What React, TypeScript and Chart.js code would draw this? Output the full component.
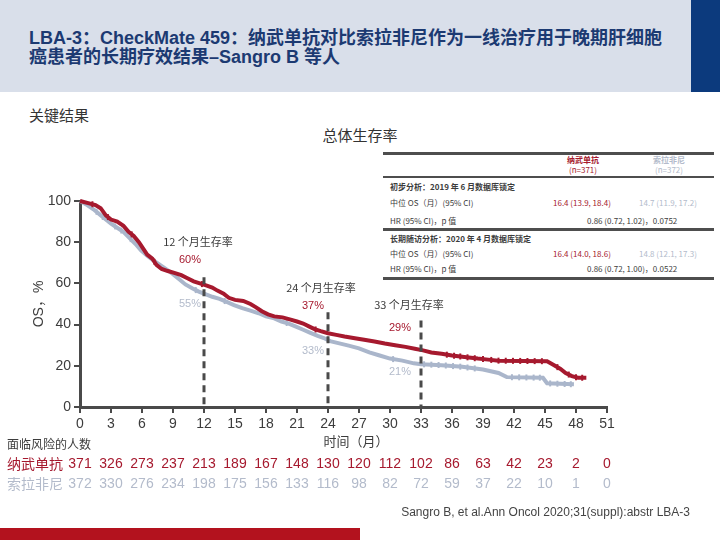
import React, { useEffect, useRef } from "react";
import { Chart, registerables } from "chart.js";
Chart.register(...registerables);

// ---------- data ----------
const tickMonths = [0, 3, 6, 9, 12, 15, 18, 21, 24, 27, 30, 33, 36, 39, 42, 45, 48, 51];
const yTicks = [0, 20, 40, 60, 80, 100];

const nivoMonths = [0, 0.8, 1.5, 2.0, 2.5, 3.0, 3.6, 4.2, 4.7, 5.2, 5.7, 6.1, 6.5, 7.0, 7.4, 7.9, 8.5, 9.2, 9.8, 10.4, 11.0, 11.6, 12.2, 12.8, 13.3, 13.9, 14.4, 15.0, 15.8, 16.5, 17.0, 17.6, 18.2, 18.8, 19.6, 20.3, 21.0, 21.6, 22.2, 22.7, 23.3, 24.0, 24.8, 25.6, 26.6, 27.5, 28.5, 29.5, 30.5, 31.5, 32.4, 33.2, 34.0, 35.0, 36.0, 37.2, 38.5, 39.5, 40.5, 45.2, 45.8, 46.5, 47.0, 47.6, 48.2, 49.0];
const nivoOS = [100, 99, 98, 96.5, 93, 91, 90, 88, 85, 83, 80, 77, 74, 72, 69, 67, 66, 65, 64, 62.5, 61, 60, 59, 58, 56.5, 55, 53, 52, 51.5, 50, 48.5, 46.5, 45, 44, 43.5, 42.5, 41.5, 40.5, 39, 37.8, 36.8, 35.8, 35, 34.2, 33.4, 32.6, 31.8, 30.8, 30, 29.2, 28.3, 27.5, 26.5, 25.8, 25, 24.3, 23.5, 23, 22.5, 22.2, 20.5, 18.5, 16.5, 15, 14.2, 14.2];
const soraMonths = [0, 0.7, 1.3, 1.9, 2.5, 3.0, 3.6, 4.2, 4.8, 5.4, 5.9, 6.5, 7.0, 7.6, 8.3, 9.0, 9.6, 10.2, 10.9, 11.5, 12.0, 12.8, 13.5, 14.2, 14.9, 15.7, 16.5, 17.3, 18.0, 18.8, 19.5, 20.2, 20.9, 21.6, 22.3, 23.0, 23.6, 24.2, 25.0, 26.0, 27.0, 28.0, 29.0, 30.0, 31.2, 32.3, 33.0, 35.0, 37.0, 39.0, 40.5, 41.3, 44.8, 45.2, 47.8];
const soraOS = [100, 98, 96, 93.5, 91, 89, 87, 85, 82, 79, 76, 73.5, 71.5, 69.5, 67, 64.5, 62, 59.5, 57.5, 56, 55, 53.5, 52.5, 51, 49.5, 48, 46.8, 45.5, 44, 43, 41.5, 40.5, 39, 37.5, 36, 34.5, 33.5, 32, 31, 29.8, 28.5, 26.5, 25, 23.5, 22.5, 21.2, 20.8, 20.3, 19.5, 18.2, 16.5, 14.5, 14.2, 11.5, 11.0];
const nivoCensor = [1.2, 2.7, 5.0, 7.2, 11.8, 22.8, 35.5, 36.2, 36.8, 37.5, 38.2, 39.0, 39.8, 40.5, 41.2, 41.9, 42.6, 43.3, 44.0, 44.7, 46.2, 47.3, 48.0, 48.6];
const soraCensor = [1.6, 2.2, 3.4, 4.0, 4.9, 11.2, 14.0, 20.0, 30.3, 33.3, 34.0, 34.7, 35.4, 36.1, 36.8, 37.5, 38.2, 41.8, 42.5, 43.2, 43.9, 44.5, 45.5, 46.2, 46.9, 47.5];

const landmarkMonths = [12, 24, 33];
const landmarkTopPct = [63, 46, 42];
const landmarkTitles = ["12 个月生存率", "24 个月生存率", "33 个月生存率"];
const nivoLandmark = ["60%", "37%", "29%"];
const soraLandmark = ["55%", "33%", "21%"];

const nivoAtRisk = [371, 326, 273, 237, 213, 189, 167, 148, 130, 120, 112, 102, 86, 63, 42, 23, 2, 0];
const soraAtRisk = [372, 330, 276, 234, 198, 175, 156, 133, 116, 98, 82, 72, 59, 37, 22, 10, 1, 0];

// ---------- styles ----------
const RED = "#A6192E";
const GREY = "#AAB6CB";
const GREY_TEXT = "#B3BBCB";
const DARK = "#3C3C3C";
const AXIS = "#4A4A4A";
const LAT = "'Liberation Sans', Arial, 'Noto Sans CJK SC', sans-serif";
const CJK = "'Noto Sans CJK SC', 'Liberation Sans', sans-serif";

function interpAt(ms: number[], vs: number[], t: number) {
  for (let i = 1; i < ms.length; i++) {
    if (ms[i] >= t) {
      const f = (t - ms[i - 1]) / (ms[i] - ms[i - 1]);
      return vs[i - 1] + f * (vs[i] - vs[i - 1]);
    }
  }
  return vs[vs.length - 1];
}

const extras = {
  id: "extras",
  afterDraw(chart: any) {
    const ctx = chart.ctx as CanvasRenderingContext2D;
    const xs = chart.scales.x;
    ctx.save();
    ctx.save();
    ctx.translate(39, 304);
    ctx.rotate(-Math.PI / 2);
    ctx.fillStyle = DARK;
    ctx.font = `14px ${LAT}`;
    ctx.textAlign = "center";
    ctx.textBaseline = "middle";
    ctx.fillText("OS，%", 0, 0);
    ctx.restore();

    ctx.textAlign = "center";
    ctx.textBaseline = "middle";
    const titleY = [242, 288, 305];
    const titleDx = [-6, -7, -12];
    const nY = [260, 306, 328];
    const sY = [304, 351, 372];
    const pDx = [-14, -15, -21];
    landmarkMonths.forEach((m, i) => {
      const px = xs.getPixelForValue(m);
      ctx.font = `11px ${CJK}`;
      ctx.fillStyle = DARK;
      ctx.fillText(landmarkTitles[i], px + titleDx[i], titleY[i]);
      ctx.font = `11px ${LAT}`;
      ctx.fillStyle = RED;
      ctx.fillText(nivoLandmark[i], px + pDx[i], nY[i]);
      ctx.fillStyle = GREY_TEXT;
      ctx.fillText(soraLandmark[i], px + pDx[i], sY[i]);
    });

    ctx.font = `13px ${CJK}`;
    ctx.fillStyle = DARK;
    ctx.fillText("时间（月）", 356, 441);

    ctx.textAlign = "left";
    ctx.font = `12px ${CJK}`;
    ctx.fillText("面临风险的人数", 7, 444);
    ctx.font = `14px ${CJK}`;
    ctx.fillStyle = RED;
    ctx.fillText("纳武单抗", 7, 464);
    ctx.fillStyle = GREY_TEXT;
    ctx.fillText("索拉非尼", 7, 484);
    ctx.textAlign = "center";
    ctx.font = `14px ${LAT}`;
    tickMonths.forEach((m, i) => {
      const px = xs.getPixelForValue(m);
      ctx.fillStyle = RED;
      ctx.fillText(String(nivoAtRisk[i]), px, 464);
      ctx.fillStyle = GREY_TEXT;
      ctx.fillText(String(soraAtRisk[i]), px, 484);
    });
    ctx.restore();
  },
};

function T(props: any) {
  const { x, y, c, children, style } = props;
  return (
    <div
      style={{
        position: "absolute",
        left: x,
        top: y,
        transform: c ? "translate(-50%,-50%)" : "translateY(-50%)",
        whiteSpace: "nowrap",
        lineHeight: 1,
        ...style,
      }}
    >
      {children}
    </div>
  );
}

function Rule({ y, h }: { y: number; h: number }) {
  return <div style={{ position: "absolute", left: 383, top: y, width: 331, height: h, background: "#4E4E4E" }} />;
}

export default function App() {
  const ref = useRef<HTMLCanvasElement>(null);
  useEffect(() => {
    if (!ref.current) return;
    const nivoData = nivoMonths.map((m, i) => ({ x: m, y: nivoOS[i] }));
    const soraData = soraMonths.map((m, i) => ({ x: m, y: soraOS[i] }));
    const nivoC = nivoCensor.map((m) => ({ x: m, y: interpAt(nivoMonths, nivoOS, m) }));
    const soraC = soraCensor.map((m) => ({ x: m, y: interpAt(soraMonths, soraOS, m) }));
    const landmarkSets = landmarkMonths.map((m, i) => ({
      type: "line" as const,
      data: [
        { x: m, y: landmarkTopPct[i] },
        { x: m, y: 0 },
      ],
      borderColor: AXIS,
      borderWidth: 3,
      borderDash: [7, 5],
      pointRadius: 0,
      clip: false as any,
    }));
    const chart = new Chart(ref.current, {
      type: "line",
      data: {
        datasets: [
          ...landmarkSets,
          { type: "line", data: nivoData, borderColor: RED, borderWidth: 4, pointRadius: 0, clip: false as any },
          { type: "scatter", data: nivoC, borderColor: RED, backgroundColor: RED, pointStyle: "line", rotation: 90, pointRadius: 3, borderWidth: 2, showLine: false, clip: false as any },
          { type: "line", data: soraData, borderColor: GREY, borderWidth: 4, pointRadius: 0, clip: false as any },
          { type: "scatter", data: soraC, borderColor: GREY, backgroundColor: GREY, pointStyle: "line", rotation: 90, pointRadius: 3, borderWidth: 2, showLine: false, clip: false as any },
        ] as any,
      },
      options: {
        animation: false,
        responsive: false,
        devicePixelRatio: 1,
        layout: { padding: { left: 0, right: 113, top: 201, bottom: 0 } },
        plugins: { legend: { display: false }, tooltip: { enabled: false } },
        scales: {
          x: {
            type: "linear",
            min: 0,
            max: 51,
            afterBuildTicks: (s: any) => {
              s.ticks = tickMonths.map((v) => ({ value: v }));
            },
            afterFit: (s: any) => {
              s.height = 133;
            },
            ticks: { color: DARK, font: { size: 14, family: LAT }, padding: 3, maxRotation: 0, autoSkip: false },
            border: { display: true, color: AXIS, width: 3 },
            grid: { drawOnChartArea: false, color: AXIS, lineWidth: 2, tickLength: 6 },
          },
          y: {
            min: 0,
            max: 100,
            afterBuildTicks: (s: any) => {
              s.ticks = yTicks.map((v) => ({ value: v }));
            },
            afterFit: (s: any) => {
              s.width = 80;
            },
            ticks: { color: DARK, font: { size: 14, family: LAT }, padding: 3 },
            border: { display: true, color: AXIS, width: 3 },
            grid: { drawOnChartArea: false, color: AXIS, lineWidth: 2, tickLength: 6 },
          },
        },
      },
      plugins: [extras],
    });
    return () => chart.destroy();
  }, []);

  const small = { fontSize: 8, fontFamily: CJK, color: DARK };
  return (
    <div style={{ position: "absolute", left: 0, top: 0, width: 720, height: 540, background: "#fff", overflow: "hidden" }}>
      <div style={{ position: "absolute", left: 0, top: 0, width: 720, height: 92, background: "#D9DFEA" }} />
      <div style={{ position: "absolute", left: 691, top: 0, width: 29, height: 92, background: "#0C3A7D" }} />
      <T x={29} y={38} style={{ fontSize: 18, fontWeight: "bold", color: "#1C3A72", fontFamily: LAT }}>
        LBA-3：CheckMate 459：纳武单抗对比索拉非尼作为一线治疗用于晚期肝细胞
      </T>
      <T x={29} y={57} style={{ fontSize: 18, fontWeight: "bold", color: "#1C3A72", fontFamily: LAT }}>
        癌患者的长期疗效结果–Sangro B 等人
      </T>
      <T x={29} y={114} style={{ fontSize: 15, color: "#333", fontFamily: CJK }}>关键结果</T>
      <T x={360} y={134} c style={{ fontSize: 15, color: "#333", fontFamily: CJK }}>总体生存率</T>

      {/* results table */}
      <Rule y={152} h={3} />
      <T x={583} y={160} c style={{ ...small, color: RED, fontWeight: "bold" }}>纳武单抗</T>
      <T x={583} y={170} c style={{ ...small, color: RED }}>(n=371)</T>
      <T x={669} y={160} c style={{ ...small, color: GREY_TEXT, fontWeight: "bold" }}>索拉非尼</T>
      <T x={669} y={170} c style={{ ...small, color: GREY_TEXT }}>(n=372)</T>
      <Rule y={176} h={2} />
      <T x={390} y={187} style={{ ...small, fontWeight: "bold" }}>初步分析：2019 年 6 月数据库锁定</T>
      <T x={390} y={203} style={small}>中位 OS（月）(95% CI)</T>
      <T x={553} y={203} style={{ ...small, color: RED }}>16.4 (13.9, 18.4)</T>
      <T x={639} y={203} style={{ ...small, color: GREY_TEXT }}>14.7 (11.9, 17.2)</T>
      <T x={390} y={221} style={small}>HR (95% CI)，p 值</T>
      <T x={587} y={221} style={small}>0.86 (0.72, 1.02)，0.0752</T>
      <Rule y={228} h={3} />
      <T x={390} y={239} style={{ ...small, fontWeight: "bold" }}>长期随访分析：2020 年 4 月数据库锁定</T>
      <T x={390} y={254} style={small}>中位 OS（月）(95% CI)</T>
      <T x={553} y={254} style={{ ...small, color: RED }}>16.4 (14.0, 18.6)</T>
      <T x={639} y={254} style={{ ...small, color: GREY_TEXT }}>14.8 (12.1, 17.3)</T>
      <T x={390} y={269} style={small}>HR (95% CI)，p 值</T>
      <T x={587} y={269} style={small}>0.86 (0.72, 1.00)，0.0522</T>
      <Rule y={277} h={3} />

      <canvas ref={ref} width={720} height={540} style={{ position: "absolute", left: 0, top: 0, width: 720, height: 540 }} />

      <T x={690} y={512} style={{ fontSize: 12, color: "#444", fontFamily: LAT, transform: "translate(-100%,-50%)" }}>
        Sangro B, et al.Ann Oncol 2020;31(suppl):abstr LBA-3
      </T>
      <div style={{ position: "absolute", left: 0, top: 528, width: 360, height: 12, background: "#B3121E" }} />
    </div>
  );
}
